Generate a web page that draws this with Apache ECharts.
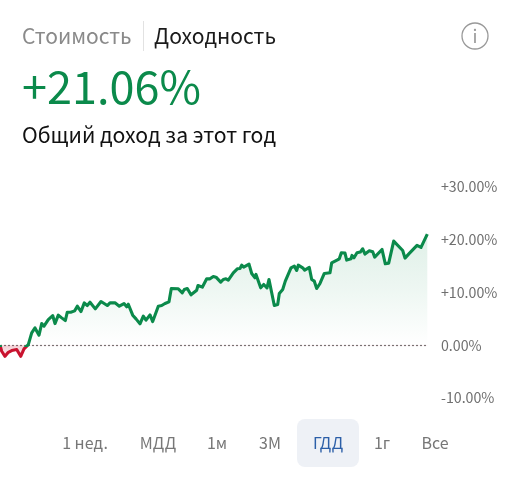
<!DOCTYPE html>
<html><head><meta charset="utf-8">
<style>html,body{margin:0;padding:0;background:#fff}#c{width:512px;height:487px}</style>
<script src="https://cdn.jsdelivr.net/npm/echarts@6/dist/echarts.min.js"></script>
</head><body><div id="c"></div>
<script>
const sessions=[0,1.7,5,8.3,11.7,16.7,20.7,24,28.3,31.7,35,39,41.7,44,48.3,52.7,55,58.3,61.7,65.3,67.3,70.7,72.7,74.7,77.3,81,84.3,87.3,90,95.3,101,107.3,110,115,119.3,124,126.7,128.3,132.7,136,138,140,143.3,146,150,152.7,154.3,158.3,161.7,165,169,171.3,178.3,182.3,184.3,187.3,191,196.7,198,202.3,206.7,210,213.3,216,220.7,223.3,226,228.3,233.3,237.3,240,241.7,243.7,249,251.7,255,256,257.7,260.7,263.7,267,269,271.7,274.3,277.7,279.3,282.7,285.3,286.7,291,294.3,296.7,298.3,302.7,304.7,309.3,311.7,314.3,316.7,320,324.3,330,331.7,333.7,337,339.3,341.3,345,346.7,351,352,354,357,360.3,362.7,365,369.3,372.7,374.7,382,385.3,388.7,393.7,402.7,405,409.3,417,421,427.3];
const returns=[0,-1.14,-2.09,-1.33,-1.01,-0.82,-2.09,-0.70,0.13,2.34,3.29,1.90,4.11,3.61,4.87,5.63,4.11,5.70,5.19,4.68,6.27,6.27,6.08,6.52,7.41,6.39,8.04,7.53,8.16,6.90,8.29,7.53,8.04,8.04,7.41,7.91,7.28,7.78,5.70,5.0,4.87,4.05,5.51,4.75,5.76,4.49,4.43,7.41,7.53,7.91,8.23,10.76,10.70,9.94,10.57,10.76,9.56,10.44,11.33,11.01,12.59,12.59,13.04,12.91,11.96,12.47,12.59,12.34,13.73,14.49,14.56,15.19,14.81,15.38,13.61,12.78,13.42,13.35,10.89,11.52,10.89,12.47,9.94,7.53,7.72,9.81,10.57,12.15,12.47,14.68,15.0,14.18,15.19,14.68,14.24,14.75,12.47,12.15,10.76,11.71,13.61,13.73,15.63,15.32,16.14,16.39,17.53,17.47,16.14,16.39,17.03,16.58,17.53,17.66,18.29,17.28,17.91,17.72,16.71,18.16,15.44,15.57,19.75,17.97,16.52,17.41,18.92,18.54,21.06];
const yTicks=[-10,0,10,20,30];
const tabs=['Стоимость','Доходность'];
const headline='+21.06%';
const subtitle='Общий доход за этот год';
const ranges=['1 нед.','МДД','1м','3М','ГДД','1г','Все'];
const rangeCenters=[85,158,217,270,328,382,435];
const activeRange='ГДД';

const FONT='"Noto Sans CJK SC","Noto Sans",sans-serif';
const GREEN='#0b8a4b', RED='#c9132f';
const hi=Math.max(...returns), lo=Math.min(...returns), z=hi/(hi-lo);
const txt=(x,y,text,size,fill,align)=>({type:'text',x,y,style:{text,font:`${size}px ${FONT}`,fill,align:align||'left',verticalAlign:'middle'},silent:true});
const chart=echarts.init(document.getElementById('c'),null,{renderer:'canvas'});
chart.setOption({
  animation:false,backgroundColor:'#fff',
  grid:{left:0,right:84,top:187,bottom:89},
  xAxis:{type:'value',min:0,max:428,show:false},
  yAxis:{type:'value',position:'right',min:yTicks[0],max:yTicks[yTicks.length-1],interval:10,
    axisLine:{show:false},axisTick:{show:false},splitLine:{show:false},
    axisLabel:{show:true,margin:13,color:'#6f6f6f',fontSize:14.2,fontFamily:FONT,
      formatter:v=>(v>0?'+':'')+v.toFixed(2)+'%',verticalAlign:'middle',padding:[0,0,6,0]}},
  series:[{type:'line',data:sessions.map((s,i)=>[s,returns[i]]),showSymbol:false,symbol:'none',z:3,
    lineStyle:{width:3.1,join:'round',color:{type:'linear',x:0,y:0,x2:0,y2:1,colorStops:[
      {offset:0,color:GREEN},{offset:z,color:GREEN},{offset:z,color:RED},{offset:1,color:RED}]}},
    areaStyle:{origin:0,color:{type:'linear',x:0,y:0,x2:0,y2:1,colorStops:[
      {offset:0,color:'rgba(11,138,75,0.13)'},
      {offset:z*0.5,color:'rgba(11,138,75,0.07)'},
      {offset:z*0.995,color:'rgba(11,138,75,0.0)'},
      {offset:z,color:'rgba(201,19,47,0.2)'},
      {offset:1,color:'rgba(201,19,47,0.08)'}]},opacity:1},
    markLine:{silent:true,symbol:'none',label:{show:false},z:2,
      lineStyle:{type:[2,2],color:'#777',width:1.2},
      data:[{yAxis:0}]}
  }],
  graphic:[
    txt(22,36,tabs[0],21,'#8a8a8a'),
    {type:'rect',shape:{x:143,y:21,width:1,height:30},style:{fill:'#e2e2e2'},silent:true},
    txt(154,36,tabs[1],21.1,'#1a1a1a'),
    {type:'circle',shape:{cx:475,cy:36,r:13},style:{fill:'none',stroke:'#999',lineWidth:1.3},silent:true},
    txt(475,36,'i',18,'#999','center'),
    txt(22,87,headline,45,GREEN),
    txt(22,135,subtitle,21.2,'#111'),
    {type:'rect',shape:{x:297,y:419,width:62,height:48,r:8},style:{fill:'#eef1f6'},silent:true},
    ...ranges.map((r,i)=>txt(rangeCenters[i],443,r,16,r===activeRange?'#2c5fa8':'#777','center'))
  ]
});
</script></body></html>
